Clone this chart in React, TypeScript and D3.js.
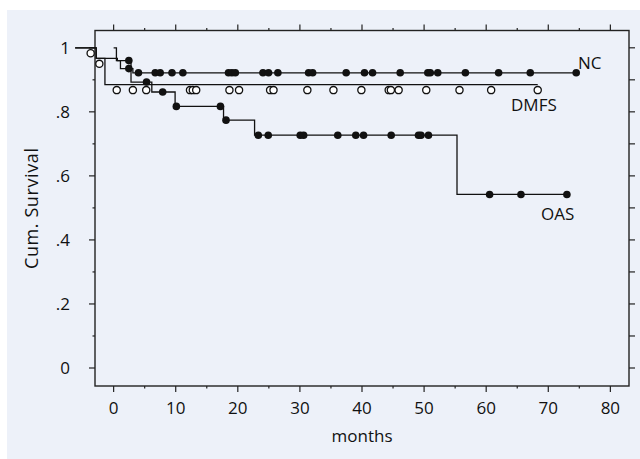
import React, { useEffect, useRef } from 'react';
import * as d3 from 'd3';

// Kaplan-Meier curves: step times / survival values, censor times, last follow-up
const ncStepTimes = [0, 0.45, 1.1, 3.1];
const ncStepSurv = [1, 0.96, 0.935, 0.922];
const ncEnd = 74.5;
const ncCensored = [2.45, 4.0, 6.7, 7.5, 9.4, 11.15, 18.5, 19.05, 19.6, 24.05, 24.95, 26.45, 31.4, 32.05, 37.45, 40.4, 41.7, 46.15, 50.6, 51.0, 52.2, 56.65, 62.0, 67.1, 74.5];

const dmfsStepTimes = [-6.2, -2.8, -1.4];
const dmfsStepSurv = [1, 0.967, 0.885];
const dmfsEnd = 68.3;
const dmfsCensored = [-3.7, -2.3, 0.5, 3.1, 5.25, 12.3, 12.75, 13.3, 18.65, 20.2, 25.2, 25.75, 31.2, 35.4, 39.9, 44.3, 44.65, 45.9, 50.35, 55.7, 60.8, 68.3];

const oasStepTimes = [-6.2, -2.8, 0.6, 2.8, 6.15, 9.9, 17.7, 22.7, 55.3];
const oasStepSurv = [1, 0.967, 0.96, 0.893, 0.862, 0.817, 0.774, 0.727, 0.542];
const oasEnd = 73.0;
const oasCensored = [2.45, 5.3, 7.9, 10.1, 17.2, 18.1, 23.3, 24.9, 30.05, 30.6, 36.1, 39.0, 40.25, 44.7, 49.1, 49.5, 50.7, 60.55, 65.6, 73.0];

const xTicks = [0, 10, 20, 30, 40, 50, 60, 70, 80];
const yTicks = [0, 0.2, 0.4, 0.6, 0.8, 1];
const yTickLabels = ['0', '.2', '.4', '.6', '.8', '1'];

const W = 640;
const H = 459;
const FONT = '"Open Sans", "Noto Sans", sans-serif';
const FS = 17;

const survAt = (times: number[], surv: number[], t: number) => {
  let s = surv[0];
  times.forEach((tt, i) => { if (tt <= t) s = surv[i]; });
  return s;
};

const App: React.FC = () => {
  const svgRef = useRef<SVGSVGElement>(null);

  useEffect(() => {
    if (!svgRef.current) return;
    const svg = d3.select(svgRef.current);
    svg.selectAll('*').remove();

    const left = 95, right = 629, top = 30.5, bottom = 386;
    const x = d3.scaleLinear().domain([-3, 83]).range([left, right]);
    const y = d3.scaleLinear().domain([0, 1]).range([368, 47.8]);

    // panel background
    svg.append('rect').attr('x', 7).attr('y', 10).attr('width', W - 7).attr('height', H - 10).attr('fill', '#edf1f9');

    const g = svg.append('g');

    // frame
    g.append('rect').attr('x', left).attr('y', top).attr('width', right - left).attr('height', bottom - top)
      .attr('fill', 'none').attr('stroke', '#222').attr('stroke-width', 1.4);

    // x ticks (bottom and top)
    d3.range(0, 81, 5).forEach(v => {
      const major = v % 10 === 0;
      g.append('line').attr('x1', x(v)).attr('x2', x(v)).attr('y1', bottom).attr('y2', bottom + (major ? 6 : 2.5))
        .attr('stroke', '#222').attr('stroke-width', 1.2);
      g.append('line').attr('x1', x(v)).attr('x2', x(v)).attr('y1', top).attr('y2', top - (major ? 6 : 2.5))
        .attr('stroke', '#222').attr('stroke-width', 1.2);
    });
    xTicks.forEach(v => {
      g.append('text').attr('x', x(v)).attr('y', 414).attr('text-anchor', 'middle')
        .attr('font-family', FONT).attr('font-size', FS).attr('fill', '#111').text(v);
    });

    // y ticks (left and right)
    d3.range(0, 11).forEach(i => {
      const v = i / 10;
      const major = i % 2 === 0;
      g.append('line').attr('x1', left).attr('x2', left - (major ? 6 : 2.5)).attr('y1', y(v)).attr('y2', y(v))
        .attr('stroke', '#222').attr('stroke-width', 1.2);
      g.append('line').attr('x1', right).attr('x2', right + 6).attr('y1', y(v)).attr('y2', y(v))
        .attr('stroke', '#222').attr('stroke-width', 1.2);
    });
    yTicks.forEach((v, i) => {
      g.append('text').attr('x', 70).attr('y', y(v) + 6).attr('text-anchor', 'end')
        .attr('font-family', FONT).attr('font-size', FS).attr('fill', '#111').text(yTickLabels[i]);
    });

    // axis titles
    g.append('text').attr('x', (left + right) / 2).attr('y', 442).attr('text-anchor', 'middle')
      .attr('font-family', FONT).attr('font-size', FS).attr('fill', '#111').text('months');
    g.append('text').attr('transform', `translate(38,${(top + bottom) / 2}) rotate(-90)`).attr('text-anchor', 'middle')
      .attr('font-family', FONT).attr('font-size', 18).attr('letter-spacing', 0.6).attr('fill', '#111').text('Cum. Survival');

    const line = d3.line<[number, number]>().x(d => x(d[0])).y(d => y(d[1])).curve(d3.curveStepAfter);

    const drawCurve = (times: number[], surv: number[], end: number) => {
      const pts: [number, number][] = times.map((t, i) => [t, surv[i]]);
      pts.push([end, surv[surv.length - 1]]);
      g.append('path').attr('d', line(pts)).attr('fill', 'none').attr('stroke', '#111').attr('stroke-width', 1.3);
    };

    drawCurve(dmfsStepTimes, dmfsStepSurv, dmfsEnd);
    drawCurve(oasStepTimes, oasStepSurv, oasEnd);
    drawCurve(ncStepTimes, ncStepSurv, ncEnd);

    // censor marks
    dmfsCensored.forEach(t => {
      g.append('circle').attr('cx', x(t)).attr('cy', y(survAt(dmfsStepTimes, dmfsStepSurv, t)) + 5.5).attr('r', 3.6)
        .attr('fill', '#fff').attr('stroke', '#111').attr('stroke-width', 1.3);
    });
    oasCensored.forEach(t => {
      g.append('circle').attr('cx', x(t)).attr('cy', y(survAt(oasStepTimes, oasStepSurv, t))).attr('r', 3.8).attr('fill', '#111');
    });
    ncCensored.forEach(t => {
      g.append('circle').attr('cx', x(t)).attr('cy', y(survAt(ncStepTimes, ncStepSurv, t))).attr('r', 3.8).attr('fill', '#111');
    });

    // curve labels
    g.append('text').attr('x', 578).attr('y', 69).attr('font-family', FONT).attr('font-size', FS).attr('fill', '#111').text('NC');
    g.append('text').attr('x', 511).attr('y', 111).attr('font-family', FONT).attr('font-size', FS).attr('fill', '#111').text('DMFS');
    g.append('text').attr('x', 541).attr('y', 220).attr('font-family', FONT).attr('font-size', FS).attr('fill', '#111').text('OAS');
  }, []);

  return (
    <svg ref={svgRef} width={W} height={H} style={{ position: 'absolute', left: 0, top: 0, background: '#fff' }} />
  );
};

export default App;
